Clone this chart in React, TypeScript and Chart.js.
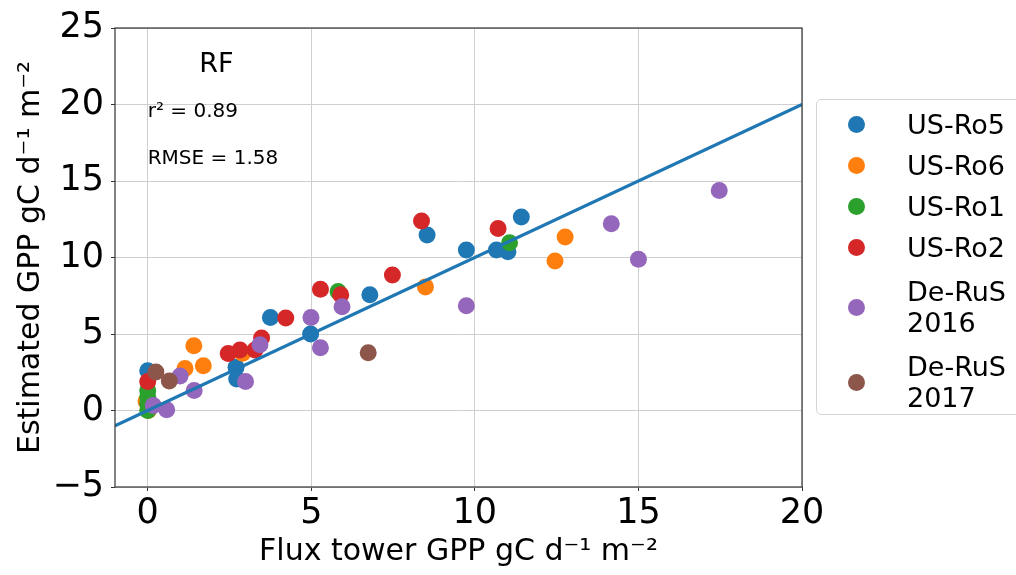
import React, { useEffect, useRef } from "react";
import { Chart, registerables } from "chart.js";

Chart.register(...registerables);

// ---- data ----
const seriesNames = ["US-Ro5", "US-Ro6", "US-Ro1", "US-Ro2", "De-RuS\n2016", "De-RuS\n2017"];
const seriesColors = ["#1f77b4", "#ff7f0e", "#2ca02c", "#d62728", "#9467bd", "#8c564b"];

const usRo5X = [0, 2.7, 2.72, 3.75, 4.98, 6.79, 8.54, 9.74, 10.66, 11.01, 11.42];
const usRo5Y = [2.6, 2.82, 2.06, 6.08, 5.0, 7.56, 11.47, 10.49, 10.49, 10.38, 12.64];

const usRo6X = [-0.05, 0.02, 1.14, 1.41, 1.7, 2.9, 8.49, 12.45, 12.76];
const usRo6Y = [0.6, 0.0, 2.75, 4.23, 2.93, 3.75, 8.08, 9.77, 11.34];

const usRo1X = [0, 0, 0, 0, 5.82, 11.06];
const usRo1Y = [0.0, 0.45, 0.9, 1.3, 7.77, 10.97];

const usRo2X = [0, 2.46, 2.82, 3.28, 3.48, 4.22, 5.28, 5.9, 7.48, 8.37, 10.71];
const usRo2Y = [1.9, 3.73, 3.95, 3.95, 4.74, 6.04, 7.93, 7.56, 8.86, 12.38, 11.9];

const deRuS2016X = [0.17, 0.58, 0.99, 1.42, 2.99, 3.43, 4.99, 5.28, 5.94, 9.74, 14.17, 15.0, 17.47];
const deRuS2016Y = [0.33, 0.05, 2.25, 1.3, 1.89, 4.3, 6.08, 4.1, 6.78, 6.84, 12.2, 9.88, 14.38];

const deRuS2017X = [0.25, 0.66, 6.74];
const deRuS2017Y = [2.52, 1.93, 3.78];

const seriesX = [usRo5X, usRo6X, usRo1X, usRo2X, deRuS2016X, deRuS2017X];
const seriesY = [usRo5Y, usRo6Y, usRo1Y, usRo2Y, deRuS2016Y, deRuS2017Y];

const oneToOneX = [-1, 20];
const oneToOneY = [-1, 20];

const xTicks = [0, 5, 10, 15, 20];
const yTicks = [-5, 0, 5, 10, 15, 20, 25];

const annotationTexts = ["RF", "r\u00B2 = 0.89", "RMSE = 1.58"];
const annotationX = [2.1, 0, 0];
const annotationY = [22.6, 19.5, 16.45];

const xTitle = "Flux tower GPP gC d\u207B\u00B9 m\u207B\u00B2";
const yTitle = "Estimated GPP gC d\u207B\u00B9 m\u207B\u00B2";

// ---- styling ----
const FONT = "'DejaVu Sans', sans-serif";

const fmtTick = (v: number | string) => {
  const n = Number(v);
  return n < 0 ? "\u2212" + Math.abs(n) : String(n);
};

const annotationPlugin = {
  id: "annotations",
  afterDatasetsDraw(chart: any) {
    const { ctx, chartArea, scales } = chart;
    const x = scales.x;
    const y = scales.y;
    ctx.save();
    // axes frame (spines)
    ctx.strokeStyle = "#333333";
    ctx.lineWidth = 1.2;
    ctx.strokeRect(chartArea.left, chartArea.top, chartArea.right - chartArea.left, chartArea.bottom - chartArea.top);
    // text annotations
    const sizes = [27, 20, 20];
    const aligns = ["center", "left", "left"];
    ctx.fillStyle = "#000000";
    ctx.textBaseline = "middle";
    annotationTexts.forEach((t, i) => {
      ctx.font = `${sizes[i]}px ${FONT}`;
      ctx.textAlign = aligns[i];
      ctx.fillText(t, x.getPixelForValue(annotationX[i]), y.getPixelForValue(annotationY[i]));
    });
    ctx.restore();
  },
};

export default function App() {
  const canvasRef = useRef<HTMLCanvasElement | null>(null);

  useEffect(() => {
    if (!canvasRef.current) return;
    const scatterSets = seriesNames.map((name, i) => ({
      type: "scatter" as const,
      label: name.replace("\n", " "),
      data: seriesX[i].map((xv, j) => ({ x: xv, y: seriesY[i][j] })),
      backgroundColor: seriesColors[i],
      borderWidth: 0,
      pointRadius: 8.5,
      pointHoverRadius: 8.5,
      order: seriesNames.length - i,
    }));
    const lineSet = {
      type: "line" as const,
      label: "1:1",
      data: oneToOneX.map((xv, j) => ({ x: xv, y: oneToOneY[j] })),
      borderColor: "#1f77b4",
      borderWidth: 3.2,
      pointRadius: 0,
      fill: false,
      order: 0,
    };

    const chart = new Chart(canvasRef.current, {
      type: "scatter",
      data: { datasets: [lineSet as any, ...scatterSets] },
      options: {
        animation: false,
        responsive: false,
        devicePixelRatio: 1,
        layout: { padding: { left: 0, top: 26, right: 214, bottom: 0 } },
        plugins: { legend: { display: false }, tooltip: { enabled: false } },
        scales: {
          x: {
            type: "linear",
            min: -1,
            max: 20,
            afterBuildTicks: (s: any) => {
              s.ticks = xTicks.map((v) => ({ value: v }));
            },
            afterFit: (s: any) => {
              s.height = 88;
            },
            ticks: {
              font: { family: FONT, size: 35 },
              color: "#000000",
              padding: 2,
              maxRotation: 0,
              callback: fmtTick,
            },
            grid: { color: "#cfcfcf", lineWidth: 1, tickLength: 4, tickColor: "#333333" },
            border: { display: false },
            title: {
              display: true,
              text: xTitle,
              color: "#000000",
              font: { family: FONT, size: 30 },
              padding: { top: 0, bottom: 5 },
            },
          },
          y: {
            type: "linear",
            min: -5,
            max: 25,
            afterBuildTicks: (s: any) => {
              s.ticks = yTicks.map((v) => ({ value: v }));
            },
            afterFit: (s: any) => {
              s.width = 115;
            },
            ticks: {
              font: { family: FONT, size: 35 },
              color: "#000000",
              padding: 7,
              callback: fmtTick,
            },
            grid: { color: "#cfcfcf", lineWidth: 1, tickLength: 4, tickColor: "#333333" },
            border: { display: false },
            title: {
              display: true,
              text: yTitle,
              color: "#000000",
              font: { family: FONT, size: 30 },
              padding: { top: 13, bottom: 0 },
            },
          },
        },
      },
      plugins: [annotationPlugin],
    });
    return () => chart.destroy();
  }, []);

  return (
    <div
      style={{
        position: "fixed",
        left: 0,
        top: 0,
        width: 1016,
        height: 575,
        overflow: "hidden",
        background: "#ffffff",
      }}
    >
      <canvas ref={canvasRef} width={1016} height={575} style={{ position: "absolute", left: 0, top: 0 }} />
      <div
        style={{
          position: "absolute",
          left: 816,
          top: 99,
          width: 240,
          height: 316,
          boxSizing: "border-box",
          border: "1px solid #d5d5d5",
          borderRadius: 5,
          background: "rgba(255,255,255,0.8)",
          fontFamily: FONT,
          fontSize: 27,
          color: "#000",
          paddingTop: 4,
        }}
      >
        {seriesNames.map((name, i) => {
          const lines = name.split("\n");
          const multi = lines.length > 1;
          return (
            <div
              key={name}
              style={{
                position: "relative",
                height: multi ? 72 : 41,
                marginTop: multi ? 3 : 0,
                display: "flex",
                alignItems: "center",
              }}
            >
              <span
                style={{
                  position: "absolute",
                  left: 31,
                  width: 17,
                  height: 17,
                  borderRadius: "50%",
                  background: seriesColors[i],
                }}
              />
              <span style={{ position: "absolute", left: 90, lineHeight: "31px", whiteSpace: "pre" }}>
                {lines.map((l, k) => (
                  <div key={k}>{l}</div>
                ))}
              </span>
            </div>
          );
        })}
      </div>
    </div>
  );
}
